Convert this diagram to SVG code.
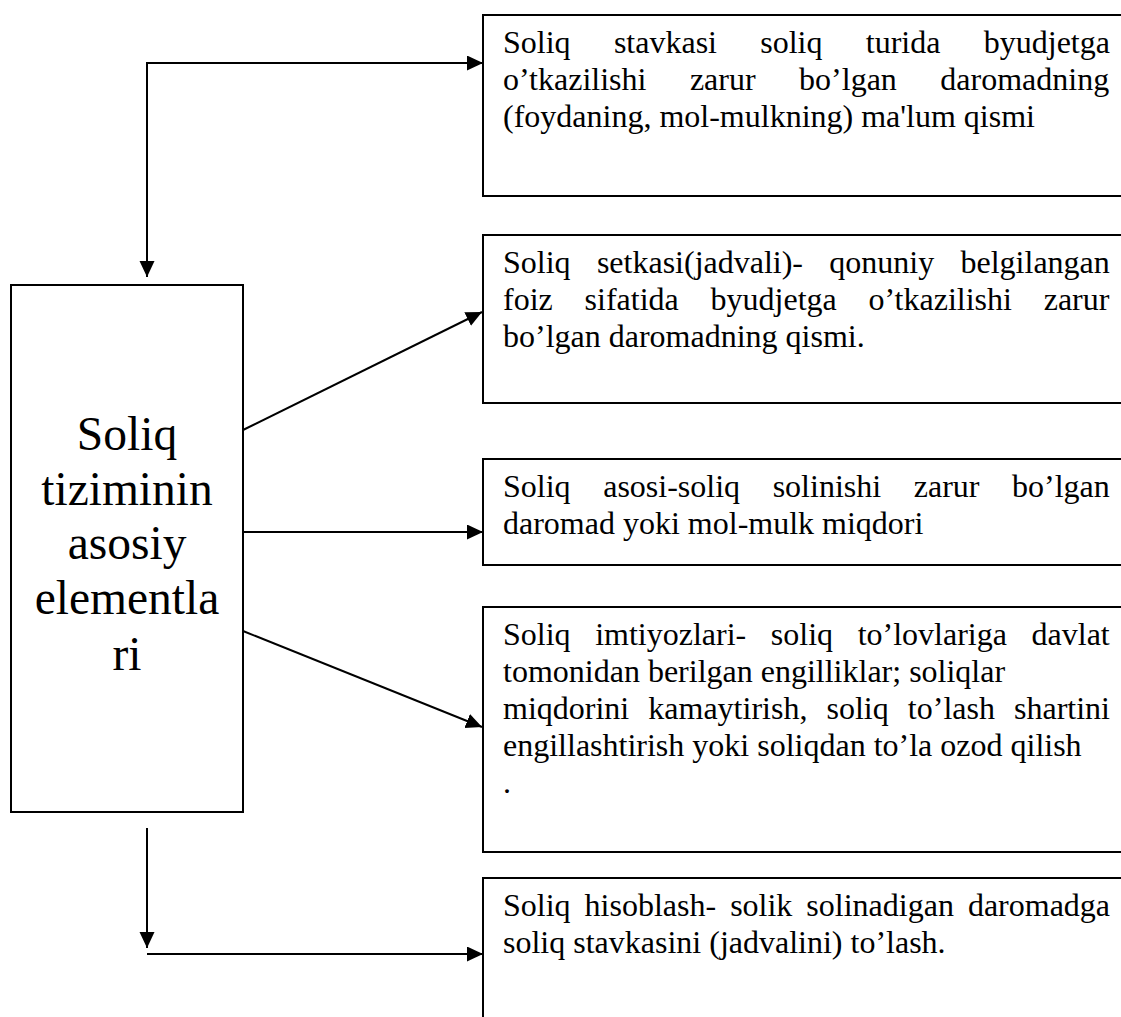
<svg xmlns="http://www.w3.org/2000/svg" width="1121" height="1017" viewBox="0 0 1121 1017">
<defs>
<marker id="ah" markerUnits="userSpaceOnUse" markerWidth="18" markerHeight="16" refX="16" refY="7.5" orient="auto">
<path d="M0,0 L16,7.5 L0,15 Z" fill="#000"/>
</marker>
<style>
.box{fill:#fff;stroke:#000;stroke-width:2}
.t{font-family:"Liberation Serif","Times New Roman",serif;font-size:32px;fill:#000}
.big{font-family:"Liberation Serif","Times New Roman",serif;font-size:47.5px;fill:#000;text-anchor:middle}
.c{fill:none;stroke:#000;stroke-width:2}
</style>
</defs>
<rect width="1121" height="1017" fill="#fff"/>
<g id="main">
<rect class="box" x="11" y="285" width="232" height="527"/>
<text class="big" x="127" y="450">Soliq</text>
<text class="big" x="127" y="505">tiziminin</text>
<text class="big" x="127" y="559">asosiy</text>
<text class="big" x="127" y="614">elementla</text>
<text class="big" x="127" y="670">ri</text>
</g>
<g id="n1">
<rect class="box" x="483" y="15" width="700" height="181"/>
<text class="t" x="503" y="53" word-spacing="35.3">Soliq stavkasi soliq turida byudjetga</text>
<text class="t" x="503" y="90" word-spacing="35.5">o’tkazilishi zarur bo’lgan daromadning</text>
<text class="t" x="503" y="127">(foydaning, mol-mulkning) ma'lum qismi</text>
</g>
<g id="n2">
<rect class="box" x="483" y="235" width="700" height="168"/>
<text class="t" x="503" y="273" word-spacing="18.3">Soliq setkasi(jadvali)- qonuniy belgilangan</text>
<text class="t" x="503" y="310" word-spacing="23.8">foiz sifatida byudjetga o’tkazilishi zarur</text>
<text class="t" x="503" y="347">bo’lgan daromadning qismi.</text>
</g>
<g id="n3">
<rect class="box" x="483" y="459" width="700" height="106"/>
<text class="t" x="503" y="497" word-spacing="24.6">Soliq asosi-soliq solinishi zarur bo’lgan</text>
<text class="t" x="503" y="534">daromad yoki mol-mulk miqdori</text>
</g>
<g id="n4">
<rect class="box" x="483" y="607" width="700" height="245"/>
<text class="t" x="503" y="645" word-spacing="16.6">Soliq imtiyozlari- soliq to’lovlariga davlat</text>
<text class="t" x="503" y="682">tomonidan berilgan engilliklar; soliqlar</text>
<text class="t" x="503" y="719" word-spacing="11.1">miqdorini kamaytirish, soliq to’lash shartini</text>
<text class="t" x="503" y="756">engillashtirish yoki soliqdan to’la ozod qilish</text>
<text class="t" x="503" y="793">.</text>
</g>
<g id="n5">
<rect class="box" x="483" y="878" width="700" height="200"/>
<text class="t" x="503" y="916" word-spacing="6">Soliq hisoblash- solik solinadigan daromadga</text>
<text class="t" x="503" y="953">soliq stavkasini (jadvalini) to’lash.</text>
</g>
<g id="connectors">
<path class="c" d="M147,63 L483,63" marker-end="url(#ah)"/>
<path class="c" d="M147,62 L147,277" marker-end="url(#ah)"/>
<path class="c" d="M243,430 L482,312" marker-end="url(#ah)"/>
<path class="c" d="M243,532 L483,532" marker-end="url(#ah)"/>
<path class="c" d="M243,631 L482,727" marker-end="url(#ah)"/>
<path class="c" d="M147,828 L147,948" marker-end="url(#ah)"/>
<path class="c" d="M147,954 L483,954" marker-end="url(#ah)"/>
</g>
</svg>
